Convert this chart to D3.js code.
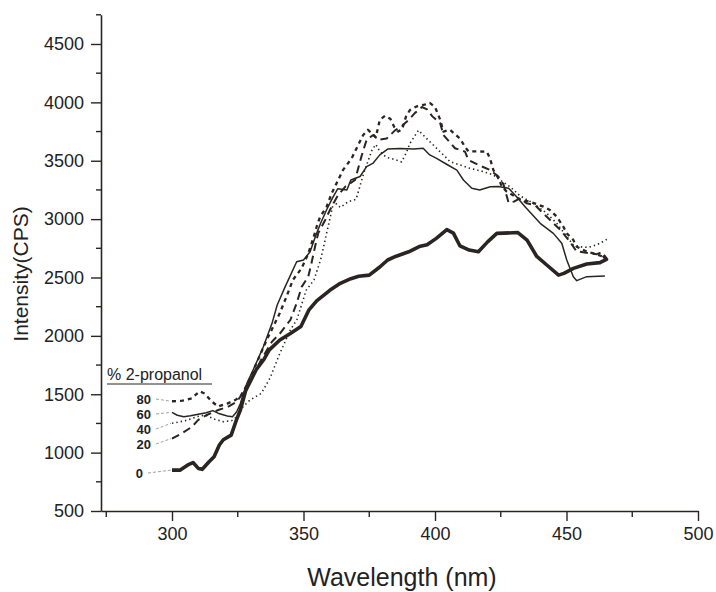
<!DOCTYPE html>
<html>
  <head>
    <script src="https://cdn.jsdelivr.net/npm/d3@7"></script>
    <style>
      body { margin: 0; background: #fff; }
      text { font-family: "Liberation Sans", Arial, sans-serif; fill: #222; }
    </style>
  </head>
  <body>
    <svg id="chart" width="716" height="592"></svg>
    <script>
      // spectra: [wavelength nm, intensity CPS]
      var s0 = [[300,850],[303,850],[306,895],[308,915],[310,865],[311.5,857],[314,920],[316,965],[318,1065],[319.5,1110],[322.5,1150],[324.5,1280],[326,1365],[328,1530],[330,1620],[332,1710],[335,1800],[337,1880],[341,1965],[345,2020],[349,2080],[352,2220],[355,2300],[360,2390],[364,2450],[368,2490],[371,2510],[375,2520],[379,2590],[382,2650],[385,2680],[390,2720],[394,2765],[397,2780],[400.5,2835],[404.5,2910],[407,2880],[409.5,2770],[413,2735],[416.5,2720],[420,2805],[423.5,2878],[431.5,2885],[435,2820],[438.7,2680],[442.5,2607],[447,2520],[449,2535],[452.6,2578],[457.7,2616],[462.7,2627],[465.2,2656],[464,2690]];

      var s20 = [[300,1120],[303.7,1165],[307.5,1220],[310,1280],[313,1320],[317.6,1365],[321.4,1395],[324.6,1436],[326,1480],[330,1620],[334,1800],[338,1950],[341,2020],[345,2136],[347.4,2280],[349.3,2420],[351.8,2507],[353,2620],[354.4,2765],[355.6,2880],[358.2,2990],[360.1,3080],[363,3200],[366,3280],[369.6,3335],[372,3535],[374,3680],[376.5,3720],[378.5,3680],[381.6,3690],[384.8,3760],[387.5,3800],[390,3850],[392.4,3910],[395,3960],[397,3940],[399,3880],[402,3820],[403.2,3720],[407.6,3607],[411.4,3578],[412.7,3506],[416.5,3464],[420.9,3421],[424.1,3364],[426,3300],[428,3140],[430,3150],[432.3,3178],[434.9,3135],[438,3120],[442.5,3020],[445,2964],[448,2900],[451.3,2807],[453.9,2721],[455.1,2721],[458.9,2707],[461.5,2700],[464,2720]];

      var s40 = [[300,1251],[305,1273],[309.5,1308],[312.5,1322],[316.3,1286],[319.5,1265],[322.7,1273],[324.6,1308],[327,1393],[329.7,1451],[334,1508],[337.3,1640],[341,1850],[345,2050],[347.5,2140],[351,2390],[354,2480],[356.5,2650],[359,2900],[361.5,3150],[364,3100],[367,3150],[370,3170],[373,3400],[376,3590],[377.5,3640],[379,3580],[381.5,3530],[385.5,3505],[387.3,3490],[389,3565],[390.5,3650],[393.7,3760],[395.5,3720],[398,3664],[400.6,3607],[403.2,3549],[405.7,3492],[409.5,3464],[413.3,3435],[418.4,3407],[422.2,3378],[424.7,3335],[428.5,3278],[432.3,3200],[437.4,3135],[442.5,3050],[446.3,2964],[450.1,2850],[452.6,2778],[456.4,2758],[459.6,2764],[462.7,2793],[466,2835]];

      var s60 = [[300,1345],[302,1320],[304.5,1308],[307,1315],[310,1328],[313,1342],[315.5,1360],[317.5,1338],[321,1314],[323,1308],[324.6,1350],[326,1420],[327,1495],[328.5,1595],[330.5,1690],[334.7,1905],[338,2105],[340,2265],[343,2420],[347.4,2635],[350,2650],[352.5,2720],[354.5,2850],[356.5,2965],[358.8,3080],[361,3180],[363,3260],[366.5,3250],[368,3335],[371.5,3365],[374,3450],[376.5,3480],[379,3550],[382,3600],[386.7,3605],[392,3600],[395.5,3607],[398,3550],[400.6,3520],[404.4,3470],[408.3,3420],[410.8,3335],[414,3264],[417,3250],[421,3278],[424,3280],[428,3264],[431,3192],[434.5,3100],[440,2964],[445,2878],[448.2,2793],[450.1,2650],[452.6,2507],[453.9,2473],[457.7,2507],[464.6,2513]];

      var s80 = [[300,1440],[304,1445],[307.5,1465],[310.5,1525],[312.5,1505],[315,1440],[317.5,1395],[321,1420],[324,1450],[326,1480],[329,1600],[332,1760],[336,1965],[341,2195],[343.5,2335],[346,2480],[349.3,2580],[351.8,2705],[353.7,2835],[355,2935],[356.3,3020],[358.8,3105],[360.7,3220],[362,3280],[365,3420],[368.3,3520],[370.8,3635],[372.7,3720],[374.5,3765],[376,3735],[377.5,3700],[379,3850],[381,3885],[383,3860],[384.5,3790],[386,3750],[387.5,3770],[389,3880],[390.5,3935],[393,3965],[396,3980],[398,3995],[400,3960],[402,3850],[403.2,3750],[405.7,3765],[409.5,3690],[411.4,3620],[412.7,3580],[416,3580],[419.7,3578],[420.9,3521],[422.2,3420],[424.1,3350],[425.4,3280],[427.3,3235],[430,3200],[433,3160],[436,3150],[441.2,3107],[443.7,3078],[446.3,3021],[448.8,2935],[450.1,2878],[452.6,2821],[453.9,2764],[457.7,2721],[460.2,2707],[464,2678]];

      var seriesNames = ["80", "60", "40", "20", "0"];
      var xTicks = [300, 350, 400, 450, 500];
      var xMinor = [275, 325, 375, 425, 475];
      var yTicks = [500, 1000, 1500, 2000, 2500, 3000, 3500, 4000, 4500];
      var yMinor = [750, 1250, 1750, 2250, 2750, 3250, 3750, 4250, 4750];

      var ink = "#2a2523";
      var svg = d3.select("#chart");

      var x = d3.scaleLinear().domain([273, 500]).range([101, 698]);
      var y = d3.scaleLinear().domain([500, 4750]).range([511, 14.8]);

      // axes
      var xAxis = svg.append("g").attr("transform", "translate(0,511)")
        .call(d3.axisBottom(x).tickValues(xTicks).tickFormat(d3.format("d"))
          .tickSize(10).tickSizeOuter(0).tickPadding(6));
      xAxis.append("g").selectAll("line").data(xMinor).join("line")
        .attr("x1", d => x(d)).attr("x2", d => x(d)).attr("y1", 0).attr("y2", 6);
      var yAxis = svg.append("g").attr("transform", "translate(101,0)")
        .call(d3.axisLeft(y).tickValues(yTicks).tickFormat(d3.format("d"))
          .tickSize(10).tickSizeOuter(0).tickPadding(7));
      yAxis.append("g").selectAll("line").data(yMinor).join("line")
        .attr("x1", -5).attr("x2", 0).attr("y1", d => y(d)).attr("y2", d => y(d));

      svg.selectAll(".domain").attr("stroke", ink).attr("stroke-width", 1.6);
      xAxis.selectAll("line").attr("stroke", ink).attr("stroke-width", 1.4);
      yAxis.selectAll("line").attr("stroke", ink).attr("stroke-width", 1.4);
      svg.selectAll(".tick text").attr("font-size", 18).attr("fill", "#222")
        .attr("font-family", '"Liberation Sans", Arial, sans-serif');

      // axis titles
      svg.append("text").attr("x", 402).attr("y", 586).attr("text-anchor", "middle")
        .attr("font-size", 25).text("Wavelength (nm)");
      svg.append("text").attr("transform", "translate(28,274) rotate(-90)")
        .attr("text-anchor", "middle").attr("font-size", 21).text("Intensity(CPS)");

      // curves
      var line = d3.line().x(d => x(d[0])).y(d => y(d[1]));
      var curves = [
        {data: s60, w: 1.5, dash: null},
        {data: s40, w: 1.6, dash: "1.4,3"},
        {data: s20, w: 2, dash: "8,5"},
        {data: s80, w: 2.3, dash: "4,4"},
        {data: s0, w: 3.6, dash: null}
      ];
      svg.append("g").selectAll("path").data(curves).join("path")
        .attr("d", d => line(d.data))
        .attr("fill", "none")
        .attr("stroke", ink)
        .attr("stroke-width", d => d.w)
        .attr("stroke-dasharray", d => d.dash)
        .attr("stroke-linejoin", "round");

      // legend
      var leg = svg.append("g");
      leg.append("text").attr("x", 107).attr("y", 380).attr("font-size", 16).text("% 2-propanol");
      leg.append("line").attr("x1", 107).attr("x2", 212).attr("y1", 384).attr("y2", 384)
        .attr("stroke", ink).attr("stroke-width", 1.2);

      var labelY = [404, 419, 434, 449, 478];
      var firsts = {"80": s80, "60": s60, "40": s40, "20": s20, "0": s0};
      seriesNames.forEach(function(n, i) {
        var right = n === "0" ? 143 : 151;
        leg.append("text").attr("x", right).attr("y", labelY[i])
          .attr("text-anchor", "end").attr("font-size", 13).attr("font-weight", "bold").text(n);
        var p = firsts[n][0];
        leg.append("line")
          .attr("x1", right + 5).attr("y1", labelY[i] - 5)
          .attr("x2", x(p[0]) - 1).attr("y2", y(p[1]))
          .attr("stroke", "#888").attr("stroke-width", 0.8).attr("stroke-dasharray", "3,2");
      });
    </script>
  </body>
</html>
